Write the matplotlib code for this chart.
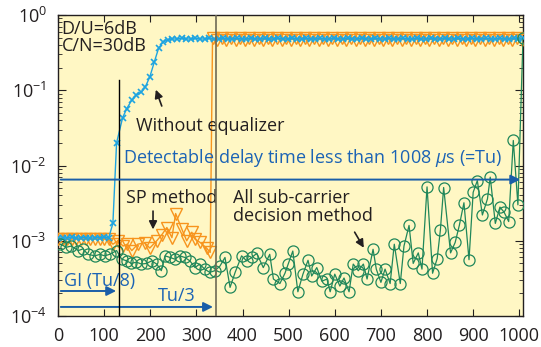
import matplotlib
matplotlib.use("Agg")
import matplotlib.pyplot as plt

# -----------------------------
# DATA
# -----------------------------
blue_x = [0, 10, 20, 30, 40, 50, 60, 70, 80, 90, 100, 110,
          119, 127, 140, 149, 160, 170, 181, 189, 199, 209, 218, 228,
          238, 248, 258, 268, 278, 288, 298, 308, 318, 328, 338, 348, 358, 368, 378, 388,
          398, 408, 418, 428, 438, 448, 458, 468, 478, 488, 498, 508, 518, 528, 538, 548,
          558, 568, 578, 588, 598, 608, 618, 628, 638, 648, 658, 668, 678, 688, 698, 708,
          718, 728, 738, 748, 758, 768, 778, 788, 798, 808, 818, 828, 838, 848, 858, 868,
          878, 888, 898, 908, 918, 928, 938, 948, 958, 968, 978, 988, 998, 1008]
blue_y = [1.1e-3, 1.08e-3, 1.1e-3, 1.12e-3, 1.08e-3, 1.1e-3, 1.1e-3, 1.08e-3, 1.1e-3, 1.1e-3, 1.12e-3, 1.1e-3,
          1.7e-3, 0.020, 0.043, 0.057, 0.074, 0.086, 0.095, 0.11, 0.15, 0.24, 0.36, 0.44,
          0.47, 0.48, 0.48, 0.49, 0.48, 0.48, 0.49, 0.48, 0.48, 0.49, 0.48, 0.48, 0.49, 0.48, 0.48, 0.49,
          0.48, 0.48, 0.49, 0.48, 0.48, 0.49, 0.48, 0.48, 0.49, 0.48, 0.48, 0.49, 0.48, 0.48, 0.49, 0.48,
          0.48, 0.49, 0.48, 0.48, 0.49, 0.48, 0.48, 0.49, 0.48, 0.48, 0.49, 0.48, 0.48, 0.49, 0.48, 0.48,
          0.49, 0.48, 0.48, 0.49, 0.48, 0.48, 0.49, 0.48, 0.48, 0.49, 0.48, 0.48, 0.49, 0.48, 0.48, 0.49,
          0.48, 0.48, 0.49, 0.48, 0.48, 0.49, 0.48, 0.48, 0.49, 0.48, 0.48, 0.49, 0.48, 0.49]

orange_x = [0, 10, 20, 30, 40, 50, 60, 70, 80, 90, 100, 110,
            119, 130, 141, 150, 160, 173, 188, 199, 214, 225, 236, 247, 255, 268, 279, 290,
            297, 308, 322, 330,
            335, 345, 355, 365, 375, 385, 395, 405, 415, 425, 435, 445, 455, 465, 475, 485,
            495, 505, 515, 525, 535, 545, 555, 565, 575, 585, 595, 605, 615, 625, 635, 645,
            655, 665, 675, 685, 695, 705, 715, 725, 735, 745, 755, 765, 775, 785, 795, 805,
            815, 825, 835, 845, 855, 865, 875, 885, 895, 905, 915, 925, 935, 945, 955, 965,
            975, 985, 995, 1005]
orange_y = [1.05e-3, 1.05e-3, 1.04e-3, 1.05e-3, 1.06e-3, 1.05e-3, 1.04e-3, 1.05e-3, 1.05e-3, 1.06e-3, 1.05e-3, 1.04e-3,
            9.0e-4, 1.0e-3, 8.5e-4, 9.0e-4, 7.4e-4, 9.0e-4, 9.4e-4, 8.0e-4, 1.0e-3, 1.2e-3, 1.5e-3, 1.1e-3,
            2.3e-3, 1.45e-3, 1.0e-3, 1.3e-3, 1.05e-3, 9.5e-4, 8.0e-4, 7.0e-4,
            0.49, 0.47, 0.49, 0.47, 0.49, 0.47, 0.49, 0.47, 0.49, 0.47, 0.49, 0.47, 0.49, 0.47, 0.49, 0.47,
            0.49, 0.47, 0.49, 0.47, 0.49, 0.47, 0.49, 0.47, 0.49, 0.47, 0.49, 0.47, 0.49, 0.47, 0.49, 0.47,
            0.49, 0.47, 0.49, 0.47, 0.49, 0.47, 0.49, 0.47, 0.49, 0.47, 0.49, 0.47, 0.49, 0.47, 0.49, 0.47,
            0.49, 0.47, 0.49, 0.47, 0.49, 0.47, 0.49, 0.47, 0.49, 0.47, 0.49, 0.47, 0.49, 0.47, 0.49, 0.47,
            0.49, 0.47, 0.49, 0.47]

green_x = [5, 18, 29, 44, 54, 65, 80, 91, 101, 112, 127, 138, 149, 159, 170, 181, 192, 203, 214, 224,
           232, 243, 253, 264, 275, 286, 297, 307, 318, 329, 340, 351, 362, 373, 384, 398, 409, 420, 431, 445,
           459, 467, 481, 492, 499, 509, 520, 531, 542, 550, 561, 572, 583, 590, 600, 611, 620, 631, 640, 651,
           662, 670, 683, 690, 700, 709, 720, 729, 742, 750, 761, 770, 781, 789, 800, 812, 822, 829, 836, 851,
           861, 870, 880, 891, 900, 909, 920, 931, 937, 948, 958, 967, 977, 987, 997, 1008]
green_y = [9.0e-4, 8.2e-4, 8.5e-4, 7.4e-4, 7.8e-4, 6.6e-4, 6.3e-4, 6.6e-4, 6.3e-4, 6.6e-4,
           7.4e-4, 5.7e-4, 5.4e-4, 5.0e-4, 5.2e-4, 4.9e-4, 5.0e-4, 5.4e-4, 4.9e-4, 4.0e-4,
           6.3e-4, 6.0e-4, 5.7e-4, 6.3e-4, 6.0e-4, 5.4e-4, 4.4e-4, 4.9e-4, 4.2e-4, 3.8e-4,
           4.0e-4, 4.6e-4, 6.0e-4, 2.4e-4, 3.8e-4, 6.3e-4, 5.4e-4, 6.0e-4, 6.8e-4, 4.4e-4,
           6.6e-4, 3.1e-4, 2.7e-4, 3.7e-4, 4.9e-4, 7.3e-4, 2.1e-4, 3.6e-4, 5.5e-4, 3.4e-4,
           4.4e-4, 2.9e-4, 3.1e-4, 2.1e-4, 3.6e-4, 2.5e-4, 3.2e-4, 2.1e-4, 4.9e-4, 4.0e-4,
           4.9e-4, 3.1e-4, 7.7e-4, 4.2e-4, 2.8e-4, 4.2e-4, 2.7e-4, 9.0e-4, 2.7e-4, 8.5e-4,
           1.6e-3, 5.0e-4, 6.9e-4, 4.2e-4, 5.2e-3, 3.7e-4, 5.8e-4, 1.4e-3, 5.1e-3, 6.9e-4,
           9.5e-4, 1.6e-3, 3.2e-3, 5.6e-4, 4.4e-3, 6.3e-3, 2.2e-3, 3.6e-3, 7.0e-3, 1.7e-3,
           2.8e-3, 2.4e-3, 1.8e-3, 2.15e-2, 3.0e-3, 0.49]

x_ticks = [0, 100, 200, 300, 400, 500, 600, 700, 800, 900, 1000]
TU = 1008
GI_LINE = 132      # Tu/8 marker as drawn
TU3_LINE = 342     # Tu/3 marker as drawn

# -----------------------------
# STYLE
# -----------------------------
plt.rcParams['font.family'] = ['Open Sans', 'DejaVu Sans']
plt.rcParams['mathtext.fontset'] = 'custom'
plt.rcParams['mathtext.rm'] = 'Open Sans'
plt.rcParams['mathtext.it'] = 'Open Sans:italic'

C_BLUE = '#1ea4e0'
C_ORANGE = '#f7941d'
C_GREEN = '#20875a'
C_TEXT_BLUE = '#1b63b5'
C_ARROW_BLUE = '#1a5ea8'
FS = 13

fig = plt.figure(figsize=(5.41, 3.47), dpi=100)
ax = fig.add_axes([0.1072, 0.0893, 0.8595, 0.8675])
ax.set_facecolor('#fff7c4')

ax.plot(orange_x, orange_y, color=C_ORANGE, lw=1.0, marker='v', ms=8,
        mfc='none', mec=C_ORANGE, mew=1.0, zorder=3)
ax.plot(blue_x, blue_y, color=C_BLUE, lw=1.0, marker='x', ms=5,
        mew=1.2, zorder=4)
ax.plot(green_x, green_y, color=C_GREEN, lw=0.9, marker='o', ms=8,
        mfc='none', mec=C_GREEN, mew=0.9, zorder=5)

# vertical markers
ax.plot([GI_LINE, GI_LINE], [1e-4, 0.136], color='black', lw=1.0, zorder=6)
ax.plot([TU3_LINE, TU3_LINE], [1e-4, 1.0], color='#6e6a55', lw=1.2, zorder=6)

ax.set_yscale('log')
ax.set_ylim(1e-4, 1.0)
ax.set_xlim(0, TU)
ax.set_xticks(x_ticks)
ax.tick_params(axis='both', which='both', direction='in', top=True, right=True,
               labelsize=FS, colors='#231f20')
ax.tick_params(axis='x', which='major', length=5, pad=8)
ax.tick_params(axis='y', which='major', length=6, pad=8)
ax.tick_params(axis='y', which='minor', length=3)
for s in ax.spines.values():
    s.set_linewidth(1.0)
    s.set_color('#231f20')

# -----------------------------
# ANNOTATIONS
# -----------------------------
ax.text(8, 0.50, 'D/U=6dB\nC/N=30dB', fontsize=FS, color='#231f20',
        linespacing=0.95, va='center', ha='left', zorder=7)

ax.annotate('', xy=(210, 0.11), xytext=(227, 0.057),
            arrowprops=dict(arrowstyle='-|>', color='#231f20', lw=1.2, mutation_scale=12))
ax.text(170, 0.034, 'Without equalizer', fontsize=FS, color='#231f20', va='center')

ax.text(140, 0.0125, r'Detectable delay time less than 1008 $\mu$s (=Tu)', fontsize=FS,
        color=C_TEXT_BLUE, va='center')
ax.annotate('', xy=(TU, 6.5e-3), xytext=(0, 6.5e-3),
            arrowprops=dict(arrowstyle='-|>', color=C_ARROW_BLUE, lw=1.4, mutation_scale=14),
            zorder=6)

ax.text(148, 3.7e-3, 'SP method', fontsize=FS, color='#231f20', va='center')
ax.annotate('', xy=(206, 1.3e-3), xytext=(206, 2.7e-3),
            arrowprops=dict(arrowstyle='-|>', color='#231f20', lw=1.2, mutation_scale=12))

ax.text(380, 2.8e-3, 'All sub-carrier\ndecision method', fontsize=FS, color='#231f20',
        va='center', linespacing=0.95)
ax.annotate('', xy=(666, 7.5e-4), xytext=(640, 1.4e-3),
            arrowprops=dict(arrowstyle='-|>', color='#231f20', lw=1.2, mutation_scale=12))

ax.text(14, 2.95e-4, 'GI (Tu/8)', fontsize=FS, color=C_TEXT_BLUE, va='center')
ax.annotate('', xy=(GI_LINE, 2.15e-4), xytext=(0, 2.15e-4),
            arrowprops=dict(arrowstyle='-|>', color=C_ARROW_BLUE, lw=1.4, mutation_scale=14))
ax.text(217, 1.85e-4, 'Tu/3', fontsize=FS, color=C_TEXT_BLUE, va='center')
ax.annotate('', xy=(TU3_LINE, 1.32e-4), xytext=(0, 1.32e-4),
            arrowprops=dict(arrowstyle='-|>', color=C_ARROW_BLUE, lw=1.4, mutation_scale=14))

fig.savefig('out.png', dpi=100)
